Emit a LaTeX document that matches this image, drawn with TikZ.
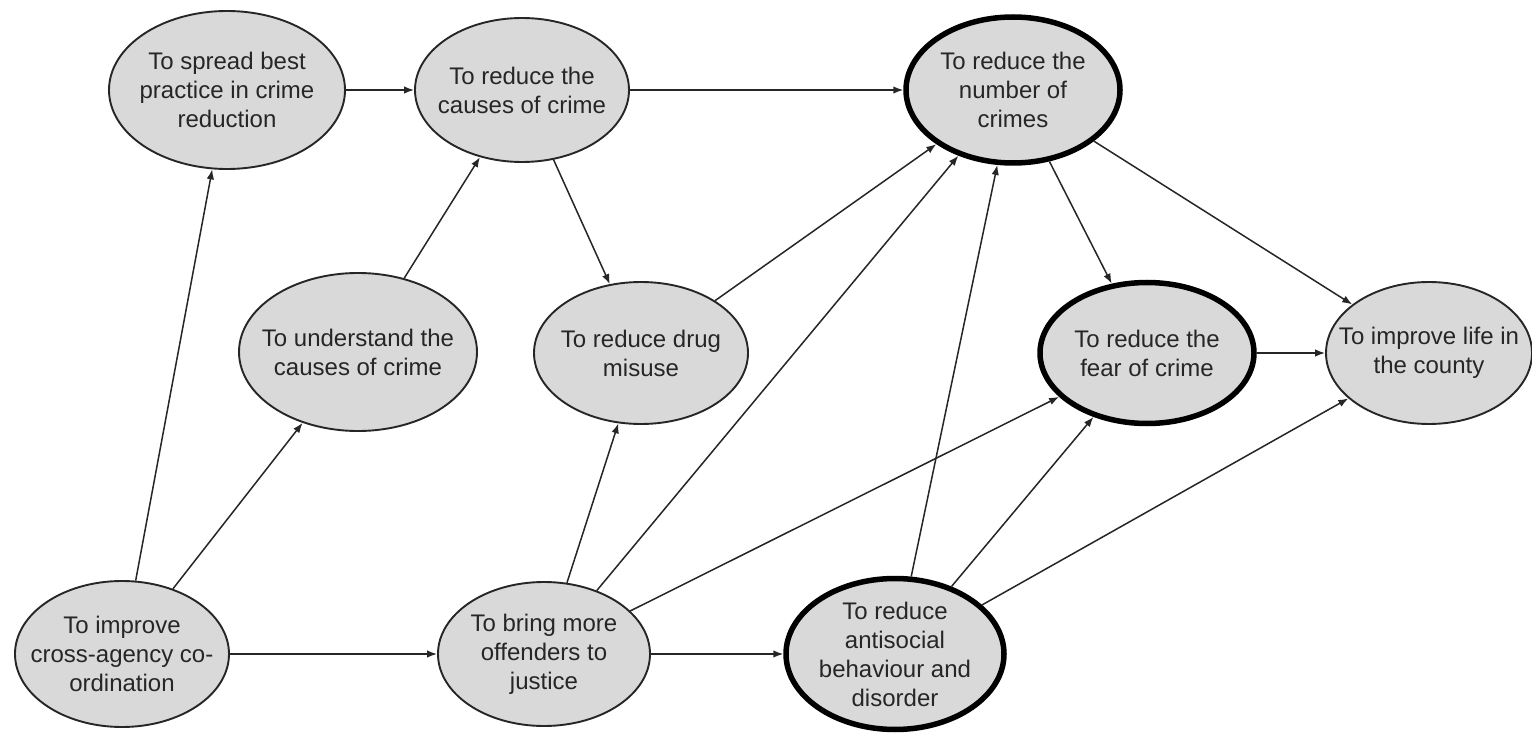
\documentclass[tikz,border=0pt]{standalone}
\usepackage{fontspec}
\setmainfont{Liberation Sans}
\usetikzlibrary{arrows.meta,shapes.geometric}
\definecolor{goalfill}{HTML}{D9D9D9}
\definecolor{ink}{HTML}{262626}
\tikzset{
  goal/.style={ellipse, draw=ink, line width=1.9pt, fill=goalfill, inner sep=0pt},
  keygoal/.style={goal, draw=black, line width=5.5pt},
  lbl/.style={align=center, text=ink, inner sep=0pt,
    font=\fontsize{24}{29}\selectfont},
  link/.style={draw=ink, line width=1.5pt, -{Latex[length=10pt,width=7.5pt]}},
}
% ellipse goal: style, name, x, y, width, height, text
\newcommand\goalnode[7]{%
  \node[#1, minimum width=#5pt, minimum height=#6pt] (#2) at (#3,#4) {};
  \node[lbl] (#2-t) at (#2.center) {#7};}

\begin{document}
\begin{tikzpicture}[x=1pt,y=-1pt]
\fill[white] (0,0) rectangle (1532,735);
\useasboundingbox (0,0) rectangle (1532,735);

\goalnode{goal}{spread}{227}{90}{236}{158}{To spread best\\practice in crime\\reduction}
\goalnode{goal}{causes}{522}{90}{214}{144}{To reduce the\\causes of crime}
\goalnode{keygoal}{number}{1013}{90}{214}{146}{To reduce the\\number of\\crimes}
\goalnode{goal}{understand}{358}{352}{238}{158}{To understand the\\causes of crime}
\goalnode{goal}{drug}{641}{353}{214}{142}{To reduce drug\\misuse}
\goalnode{keygoal}{fear}{1147}{353}{214}{141}{To reduce the\\fear of crime}
\goalnode{goal}{life}{1429}{353}{206}{142}{To improve life in\\the county}
\goalnode{goal}{coord}{122}{654}{214}{146}{To improve\\cross-agency co-\\ordination}
\goalnode{goal}{justice}{544}{654}{212}{144}{To bring more\\offenders to\\justice}
\goalnode{keygoal}{antisocial}{895}{654}{218}{151}{To reduce\\antisocial\\behaviour and\\disorder}

% links between goals
\draw[link] (spread) -- (causes);
\draw[link] (causes) -- (number);
\draw[link] (coord) -- (spread);
\draw[link] (coord) -- (understand);
\draw[link] (coord) -- (justice);
\draw[link] (understand) -- (causes);
\draw[link] (causes) -- (drug);
\draw[link] (drug) -- (number);
\draw[link] (justice) -- (drug);
\draw[link] (justice) -- (number);
\draw[link] (justice) -- (fear);
\draw[link] (justice) -- (antisocial);
\draw[link] (antisocial) -- (number);
\draw[link] (antisocial) -- (fear);
\draw[link] (antisocial) -- (life);
\draw[link] (number) -- (fear);
\draw[link] (number) -- (life);
\draw[link] (fear) -- (life);
\end{tikzpicture}
\end{document}
